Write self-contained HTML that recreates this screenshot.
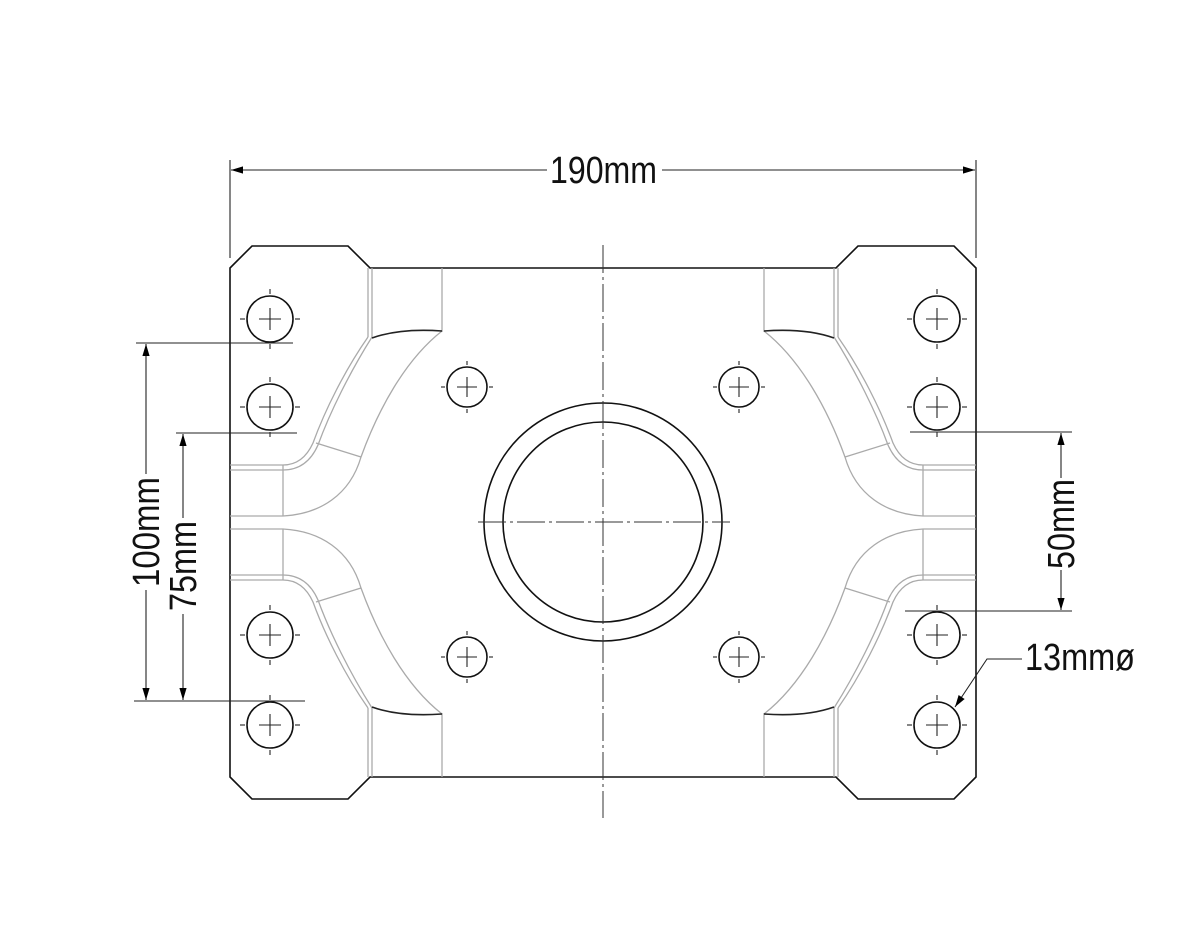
<!DOCTYPE html>
<html><head><meta charset="utf-8"><style>html,body{margin:0;padding:0;background:#fff}svg{display:block}</style></head>
<body>
<svg width="1200" height="950" viewBox="0 0 1200 950" xmlns="http://www.w3.org/2000/svg">
<defs>
<marker id="a" viewBox="0 0 10 10" refX="10" refY="5" markerWidth="12" markerHeight="12" markerUnits="userSpaceOnUse" orient="auto-start-reverse"><path d="M0,2 L10,5 L0,8 Z" fill="#000"/></marker>
<g id="quad">
  <g fill="none" stroke="#aaa" stroke-width="1.3">
    <line x1="368" y1="268" x2="368" y2="337"/>
    <line x1="372" y1="268" x2="372" y2="337"/>
    <line x1="442" y1="268" x2="442" y2="332"/>
    <path d="M368,337 C345,370 325,410 313,443 Q303,465 283,465 L230,465"/>
    <path d="M372,337 C350,372 330,412 318,445 Q307,470 283,470 L230,470"/>
    <path d="M442,331 C405,360 378,410 361,457 C350,495 320,514 283,516 L230,516"/>
    <line x1="283" y1="465" x2="283" y2="516"/>
    <line x1="316" y1="443" x2="361" y2="457"/>
  </g>
  <path d="M372,338 Q400,328 442,331" fill="none" stroke="#222" stroke-width="1.6"/>
</g>
<g id="hole">
  <circle r="23" fill="none" stroke="#111" stroke-width="1.6"/>
  <g stroke="#222" stroke-width="1.1"><line x1="-30" y1="0" x2="-25" y2="0"/><line x1="-11" y1="0" x2="11" y2="0"/><line x1="25" y1="0" x2="30" y2="0"/><line y1="-30" x1="0" y2="-25" x2="0"/><line y1="-11" x1="0" y2="11" x2="0"/><line y1="25" x1="0" y2="30" x2="0"/></g>
</g>
<g id="hole2">
  <circle r="20" fill="none" stroke="#111" stroke-width="1.6"/>
  <g stroke="#222" stroke-width="1.1"><line x1="-26" y1="0" x2="-22" y2="0"/><line x1="-10" y1="0" x2="10" y2="0"/><line x1="22" y1="0" x2="26" y2="0"/><line y1="-26" x1="0" y2="-22" x2="0"/><line y1="-10" x1="0" y2="10" x2="0"/><line y1="22" x1="0" y2="26" x2="0"/></g>
</g>
</defs>

<path d="M230,268 L252,246 L348,246 L370,268 L836,268 L858,246 L954,246 L976,268 L976,777 L954,799 L858,799 L836,777 L370,777 L348,799 L252,799 L230,777 Z" fill="none" stroke="#111" stroke-width="1.6"/>

<use href="#quad"/>
<use href="#quad" transform="translate(0,1045) scale(1,-1)"/>
<use href="#quad" transform="translate(1206,0) scale(-1,1)"/>
<use href="#quad" transform="translate(1206,1045) scale(-1,-1)"/>

<use href="#hole" x="270" y="319"/><use href="#hole" x="270" y="407"/>
<use href="#hole" x="270" y="635"/><use href="#hole" x="270" y="725"/>
<use href="#hole" x="937" y="319"/><use href="#hole" x="937" y="407"/>
<use href="#hole" x="937" y="635"/><use href="#hole" x="937" y="725"/>
<use href="#hole2" x="467" y="387"/><use href="#hole2" x="467" y="657"/>
<use href="#hole2" x="739" y="387"/><use href="#hole2" x="739" y="657"/>

<circle cx="603" cy="522" r="119" fill="none" stroke="#111" stroke-width="1.6"/>
<circle cx="603" cy="522" r="100" fill="none" stroke="#111" stroke-width="1.6"/>
<line x1="603" y1="245" x2="603" y2="818" stroke="#333" stroke-width="1" stroke-dasharray="28,4,3,4"/>
<line x1="478" y1="522" x2="730" y2="522" stroke="#333" stroke-width="1" stroke-dasharray="28,4,3,4"/>

<g stroke="#222" stroke-width="1.1" fill="none">
  <line x1="230" y1="160" x2="230" y2="258"/>
  <line x1="976" y1="160" x2="976" y2="258"/>
  <line x1="231" y1="170" x2="547" y2="170" marker-start="url(#a)"/>
  <line x1="662" y1="170" x2="975" y2="170" marker-end="url(#a)"/>
  <line x1="136" y1="343" x2="293" y2="343"/>
  <line x1="176" y1="433" x2="297" y2="433"/>
  <line x1="134" y1="701" x2="305" y2="701"/>
  <line x1="146" y1="344" x2="146" y2="474" marker-start="url(#a)"/>
  <line x1="146" y1="590" x2="146" y2="700" marker-end="url(#a)"/>
  <line x1="183" y1="434" x2="183" y2="518" marker-start="url(#a)"/>
  <line x1="183" y1="614" x2="183" y2="700" marker-end="url(#a)"/>
  <line x1="910" y1="432" x2="1072" y2="432"/>
  <line x1="905" y1="611" x2="1072" y2="611"/>
  <line x1="1061" y1="433" x2="1061" y2="478" marker-start="url(#a)"/>
  <line x1="1061" y1="570" x2="1061" y2="610" marker-end="url(#a)"/>
  <polyline points="1022,659 987,659 955,707" marker-end="url(#a)"/>
</g>
<g font-family="Liberation Sans, sans-serif" font-size="38" fill="#111">
  <text x="550" y="183" textLength="107" lengthAdjust="spacingAndGlyphs">190mm</text>
  <text x="1025" y="670" textLength="110" lengthAdjust="spacingAndGlyphs">13mmø</text>
  <text transform="translate(159,532) rotate(-90)" text-anchor="middle" textLength="110" lengthAdjust="spacingAndGlyphs">100mm</text>
  <text transform="translate(196,566) rotate(-90)" text-anchor="middle" textLength="90" lengthAdjust="spacingAndGlyphs">75mm</text>
  <text transform="translate(1074,524) rotate(-90)" text-anchor="middle" textLength="90" lengthAdjust="spacingAndGlyphs">50mm</text>
</g>
</svg>
</body></html>
